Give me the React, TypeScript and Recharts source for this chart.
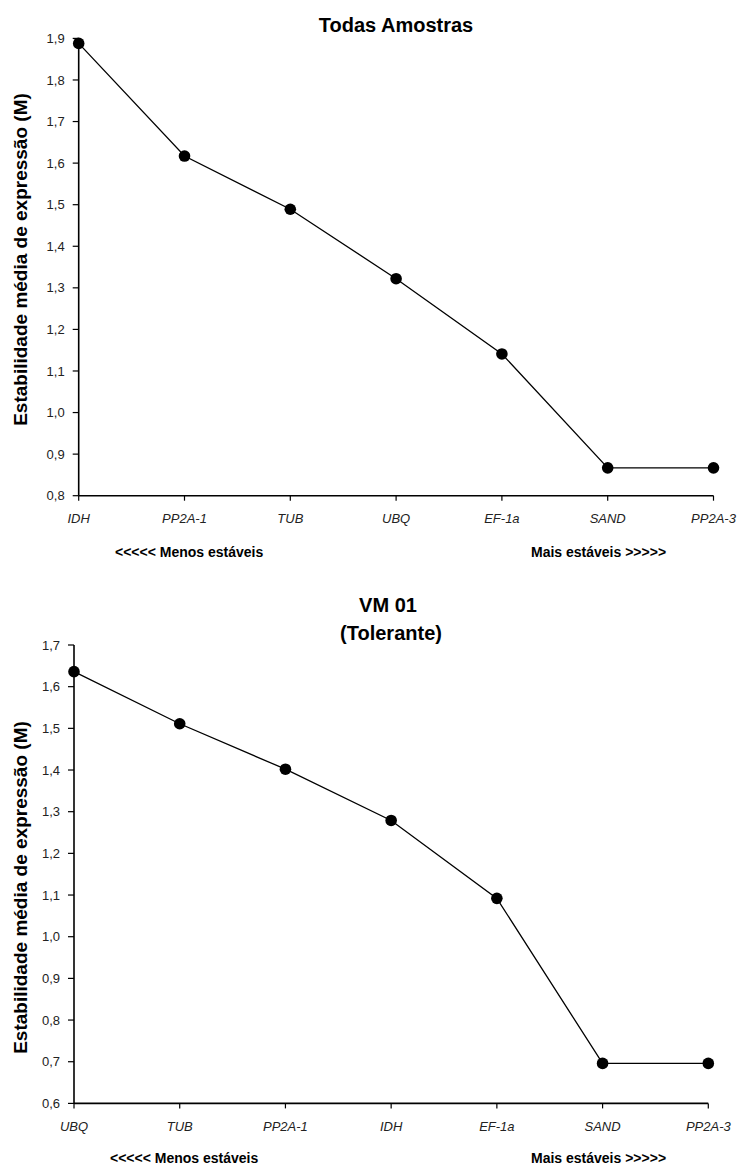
import React from 'react';
import { LineChart, Line, XAxis, YAxis } from 'recharts';

const topGenes = ['IDH', 'PP2A-1', 'TUB', 'UBQ', 'EF-1a', 'SAND', 'PP2A-3'];
const topValues = [1.888, 1.617, 1.489, 1.322, 1.141, 0.867, 0.867];
const topTicks = [0.8, 0.9, 1.0, 1.1, 1.2, 1.3, 1.4, 1.5, 1.6, 1.7, 1.8, 1.9];

const bottomGenes = ['UBQ', 'TUB', 'PP2A-1', 'IDH', 'EF-1a', 'SAND', 'PP2A-3'];
const bottomValues = [1.636, 1.511, 1.402, 1.279, 1.092, 0.696, 0.696];
const bottomTicks = [0.6, 0.7, 0.8, 0.9, 1.0, 1.1, 1.2, 1.3, 1.4, 1.5, 1.6, 1.7];

const yLabel = 'Estabilidade média de expressão (M)';
const leftNote = '<<<<< Menos estáveis';
const rightNote = 'Mais estáveis >>>>>';

const FONT = '"Liberation Sans", Arial, Helvetica, sans-serif';

const fmt = (v: number) => v.toFixed(1).replace('.', ',');

type PanelProps = {
  genes: string[];
  values: number[];
  ticks: number[];
  top: number;
  height: number;
  margin: { top: number; right: number; bottom: number; left: number };
  yWidth: number;
};

function Panel({ genes, values, ticks, top, height, margin, yWidth }: PanelProps) {
  const data = genes.map((g, i) => ({ gene: g, value: values[i] }));
  return (
    <div style={{ position: 'absolute', left: 0, top, width: 741, height }}>
      <LineChart width={741} height={height} data={data} margin={margin}>
        <XAxis
          dataKey="gene"
          type="category"
          padding={{ left: 0, right: 0 }}
          axisLine={{ stroke: '#000', strokeWidth: 1.6 }}
          tickLine={{ stroke: '#000', strokeWidth: 1.2 }}
          tickSize={5}
          tickMargin={13}
          height={30}
          interval={0}
          tick={{ fill: '#222', fontSize: 13, fontStyle: 'italic', fontFamily: FONT }}
        />
        <YAxis
          type="number"
          domain={[ticks[0], ticks[ticks.length - 1]]}
          ticks={ticks}
          interval={0}
          width={yWidth}
          tickFormatter={fmt}
          axisLine={{ stroke: '#000', strokeWidth: 1.6 }}
          tickLine={{ stroke: '#000', strokeWidth: 1.2 }}
          tickSize={6}
          tickMargin={8}
          tick={{ fill: '#222', fontSize: 13, fontFamily: FONT }}
        />
        <Line
          type="linear"
          dataKey="value"
          stroke="#000"
          strokeWidth={1.3}
          dot={{ r: 5.8, fill: '#000', stroke: '#000', strokeWidth: 0 }}
          activeDot={false}
          isAnimationActive={false}
        />
      </LineChart>
    </div>
  );
}

function TextAt({ x, y, size, children, bold = true }: { x: number; y: number; size: number; children: React.ReactNode; bold?: boolean }) {
  return (
    <div
      style={{
        position: 'absolute',
        left: x,
        top: y - size / 2,
        fontSize: size,
        lineHeight: `${size}px`,
        fontFamily: FONT,
        fontWeight: bold ? 700 : 400,
        color: '#000',
        whiteSpace: 'nowrap',
      }}
    >
      {children}
    </div>
  );
}

function Centered({ cx, y, size, children }: { cx: number; y: number; size: number; children: React.ReactNode }) {
  return (
    <div
      style={{
        position: 'absolute',
        left: cx - 200,
        width: 400,
        textAlign: 'center',
        top: y - size / 2,
        fontSize: size,
        lineHeight: `${size}px`,
        fontFamily: FONT,
        fontWeight: 700,
        color: '#000',
        whiteSpace: 'nowrap',
      }}
    >
      {children}
    </div>
  );
}

function VLabel({ cx, cy, size }: { cx: number; cy: number; size: number }) {
  return (
    <div
      style={{
        position: 'absolute',
        left: cx - 250,
        top: cy - size / 2,
        width: 500,
        height: size,
        textAlign: 'center',
        fontSize: size,
        lineHeight: `${size}px`,
        fontFamily: FONT,
        fontWeight: 700,
        color: '#000',
        whiteSpace: 'nowrap',
        transform: 'rotate(-90deg)',
        transformOrigin: '50% 50%',
      }}
    >
      {yLabel}
    </div>
  );
}

export default function App() {
  return (
    <div style={{ position: 'absolute', left: 0, top: 0, width: 741, height: 1170, background: '#fff', overflow: 'hidden' }}>
      <Panel
        genes={topGenes}
        values={topValues}
        ticks={topTicks}
        top={0}
        height={590}
        margin={{ top: 38.4, right: 27.5, bottom: 64.3, left: 0 }}
        yWidth={78.7}
      />
      <Panel
        genes={bottomGenes}
        values={bottomValues}
        ticks={bottomTicks}
        top={590}
        height={580}
        margin={{ top: 55, right: 32.7, bottom: 36.6, left: 0 }}
        yWidth={74}
      />
      <Centered cx={396} y={25} size={20}>Todas Amostras</Centered>
      <Centered cx={388} y={605} size={20}>VM 01</Centered>
      <Centered cx={391} y={633} size={20}>(Tolerante)</Centered>
      <VLabel cx={20} cy={259} size={19} />
      <VLabel cx={20} cy={887} size={19} />
      <TextAt x={115} y={552} size={14}>{leftNote}</TextAt>
      <TextAt x={531} y={552} size={14}>{rightNote}</TextAt>
      <TextAt x={110} y={1158} size={14}>{leftNote}</TextAt>
      <TextAt x={531} y={1158} size={14}>{rightNote}</TextAt>
    </div>
  );
}
